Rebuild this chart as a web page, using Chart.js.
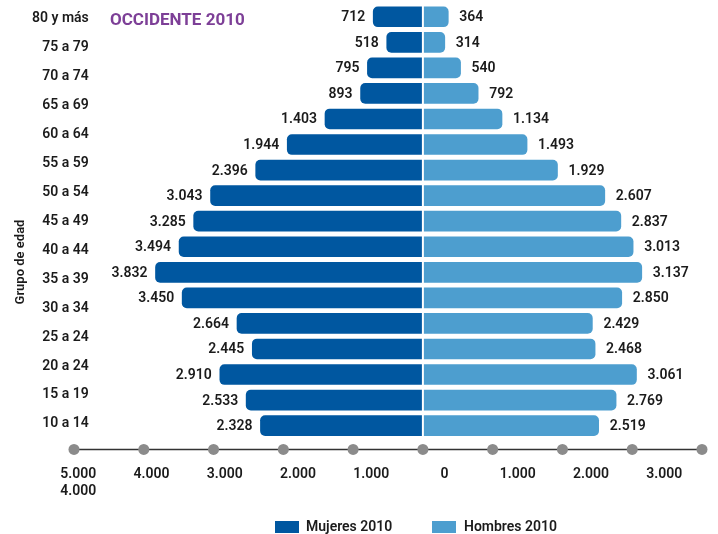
<!DOCTYPE html>
<html>
<head>
<meta charset="utf-8">
<script src="https://cdn.jsdelivr.net/npm/chart.js@4/dist/chart.umd.min.js"></script>
<style>
  html, body { margin: 0; padding: 0; background: #fff; }
</style>
</head>
<body>
<canvas id="piramide" width="718" height="534"></canvas>
<script>
const gruposEdad = ['80 y más', '75 a 79', '70 a 74', '65 a 69', '60 a 64', '55 a 59', '50 a 54',
    '45 a 49', '40 a 44', '35 a 39', '30 a 34', '25 a 24', '20 a 24', '15 a 19', '10 a 14'];
const mujeres = [712, 518, 795, 893, 1403, 1944, 2396, 3043, 3285, 3494, 3832, 3450, 2664, 2445, 2910, 2533, 2328];
const hombres = [364, 314, 540, 792, 1134, 1493, 1929, 2607, 2837, 3013, 3137, 2850, 2429, 2468, 3061, 2769, 2519];
const ejeValores = [-5000, -4000, -3000, -2000, -1000, 0, 1000, 2000, 3000, 4000];
const ejeEtiquetas = [['5.000', '4.000'], '4.000', '3.000', '2.000', '1.000', '0', '1.000', '2.000', '3.000'];

const AZUL = '#0057a0';
const CELESTE = '#4d9ecf';
const TEXTO = '#1b1b1b';
const FUENTE = 'Roboto';
const PESO = '600';

function fmt(v) {
    return String(Math.abs(v)).replace(/\B(?=(\d{3})+(?!\d))/g, '.');
}

const extras = {
    id: 'extras',
    afterDatasetsDraw(chart) {
        const { ctx, chartArea, scales } = chart;
        const x = scales.x;
        const cero = x.getPixelForValue(0);
        ctx.save();

        // separacion blanca al centro
        ctx.fillStyle = '#fff';
        ctx.fillRect(cero - 1, chartArea.top, 2, chartArea.bottom - chartArea.top);

        // valores
        ctx.font = `${PESO} 14px ${FUENTE}`;
        ctx.fillStyle = TEXTO;
        ctx.textBaseline = 'middle';
        chart.data.datasets.forEach((ds, d) => {
            chart.getDatasetMeta(d).data.forEach((bar, i) => {
                ctx.textAlign = d === 0 ? 'right' : 'left';
                ctx.fillText(fmt(ds.data[i]), d === 0 ? bar.x - 8 : bar.x + 11, bar.y + 1);
            });
        });

        // eje con puntos
        const yEje = chartArea.bottom + 11;
        ctx.strokeStyle = '#333';
        ctx.lineWidth = 1.5;
        ctx.beginPath();
        ctx.moveTo(x.getPixelForValue(ejeValores[0]), yEje);
        ctx.lineTo(x.getPixelForValue(ejeValores[ejeValores.length - 1]), yEje);
        ctx.stroke();
        ctx.fillStyle = '#8b8b8b';
        ejeValores.forEach(v => {
            ctx.beginPath();
            ctx.arc(x.getPixelForValue(v), yEje, 5.5, 0, Math.PI * 2);
            ctx.fill();
        });

        // titulo
        ctx.font = `bold 17px ${FUENTE}`;
        ctx.fillStyle = '#7d3f97';
        ctx.textAlign = 'left';
        ctx.fillText('OCCIDENTE 2010', 110, 21);

        // titulo eje y
        ctx.save();
        ctx.translate(21, 262);
        ctx.rotate(-Math.PI / 2);
        ctx.font = `${PESO} 13px ${FUENTE}`;
        ctx.fillStyle = TEXTO;
        ctx.textAlign = 'center';
        ctx.fillText('Grupo de edad', 0, 0);
        ctx.restore();

        // leyenda
        const items = [[275, 306], [432, 464]];
        ctx.font = `${PESO} 14px ${FUENTE}`;
        ctx.textAlign = 'left';
        chart.data.datasets.forEach((ds, d) => {
            ctx.fillStyle = ds.backgroundColor;
            ctx.fillRect(items[d][0], 521, 24, 12);
            ctx.fillStyle = TEXTO;
            ctx.fillText(ds.label, items[d][1], 527);
        });
        ctx.restore();
    }
};

new Chart(document.getElementById('piramide'), {
    type: 'bar',
    data: {
        labels: mujeres.map((_, i) => String(i)),
        datasets: [
            {
                label: 'Mujeres 2010',
                data: mujeres.map(v => -v),
                backgroundColor: AZUL,
                borderRadius: 5,
                borderSkipped: 'start',
                barThickness: 20,
            },
            {
                label: 'Hombres 2010',
                data: hombres,
                backgroundColor: CELESTE,
                borderRadius: 5,
                borderSkipped: 'start',
                barThickness: 20,
            }
        ]
    },
    options: {
        responsive: false,
        animation: false,
        indexAxis: 'y',
        layout: { padding: { top: 4, right: 16, left: 0, bottom: 6 } },
        plugins: {
            legend: { display: false },
            tooltip: { enabled: false }
        },
        scales: {
            x: { type: 'linear', min: -5000, max: 4000, stacked: true, display: false },
            y: { type: 'category', stacked: true, display: false },
            // las etiquetas del eje van algo corridas respecto de los puntos
            ejeX: {
                type: 'linear', axis: 'x', position: 'bottom',
                min: -5057, max: 3516, bounds: 'data',
                grid: { display: false, drawTicks: false },
                border: { display: false },
                afterBuildTicks: s => { s.ticks = ejeValores.slice(0, ejeEtiquetas.length).map(v => ({ value: v })); },
                ticks: {
                    autoSkip: false, maxRotation: 0,
                    padding: 28, color: TEXTO,
                    font: { family: FUENTE, size: 14, weight: PESO, lineHeight: 1.2 },
                    callback: (v, i) => ejeEtiquetas[i] ?? ''
                }
            },
            edad: {
                type: 'category', axis: 'y', position: 'left',
                labels: gruposEdad, offset: true,
                grid: { display: false, drawTicks: false },
                border: { display: false },
                ticks: {
                    mirror: true, crossAlign: 'far',
                    padding: -42, autoSkip: false, color: TEXTO,
                    font: { family: FUENTE, size: 14, weight: PESO }
                },
                afterFit: s => { s.width = 74; }
            }
        }
    },
    plugins: [extras]
});
</script>
</body>
</html>
